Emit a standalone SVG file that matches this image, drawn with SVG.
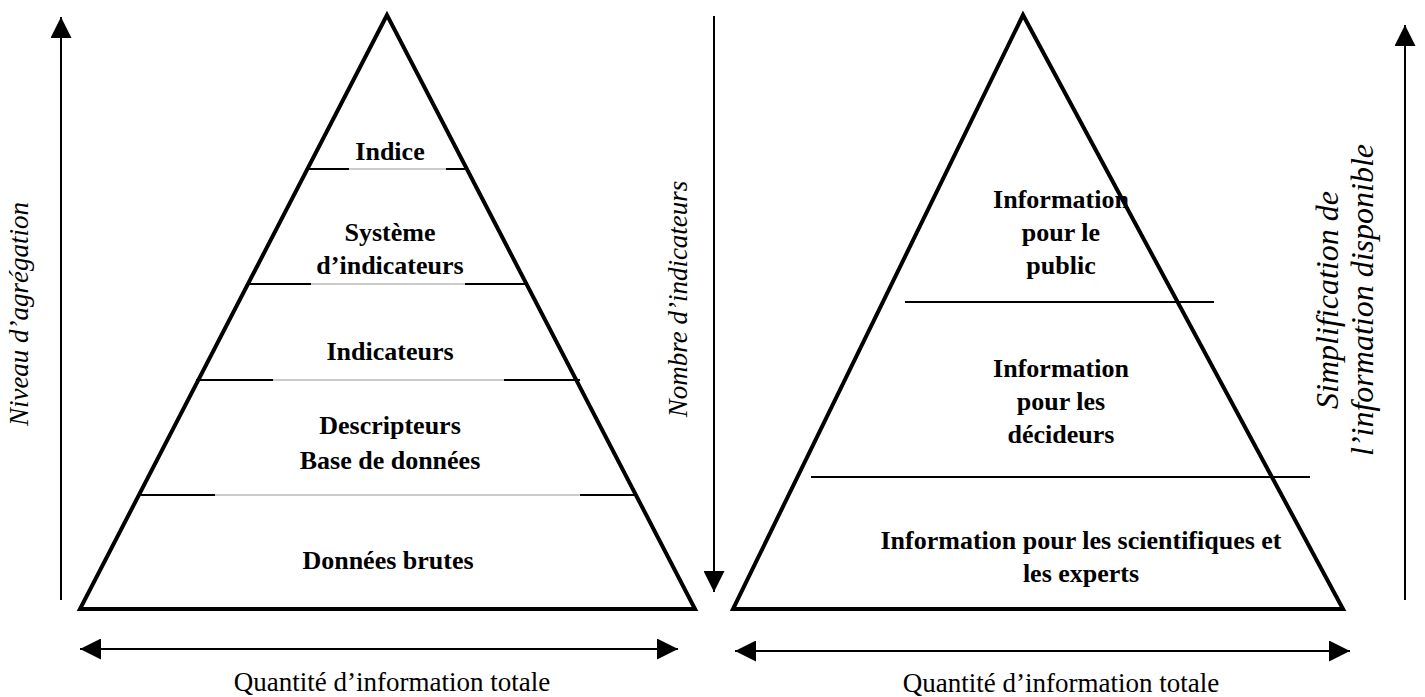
<svg xmlns="http://www.w3.org/2000/svg" width="1425" height="697" viewBox="0 0 1425 697">
  <style>
    .pyr { fill: none; stroke: #000; stroke-width: 4; stroke-linejoin: miter; }
    .div { stroke: #000; stroke-width: 2; }
    .gap { stroke: #999; stroke-width: 1; }
    .axis { stroke: #000; stroke-width: 2; fill: none; }
    .lbl { font-family: "Liberation Serif", "Times New Roman", serif; font-size: 26px; font-weight: bold; text-anchor: middle; fill: #000; }
    .ax { font-family: "Liberation Serif", "Times New Roman", serif; font-size: 27px; font-style: italic; text-anchor: middle; fill: #000; }
    .ax-big { font-family: "Liberation Serif", "Times New Roman", serif; font-size: 32px; font-style: italic; text-anchor: middle; fill: #000; }
    .qt { font-family: "Liberation Serif", "Times New Roman", serif; font-size: 27px; text-anchor: middle; fill: #000; }
  </style>
  <defs>
    <marker id="head" viewBox="0 0 10 10" refX="10" refY="5" markerWidth="10.5" markerHeight="10.5" markerUnits="strokeWidth" orient="auto-start-reverse">
      <path d="M0,0 L10,5 L0,10 Z" fill="#000"/>
    </marker>
  </defs>

  <rect width="1425" height="697" fill="#fff"/>

  <!-- Aggregation pyramid -->
  <g id="pyramid-left">
    <polygon class="pyr" points="387,15 80,609 695,609"/>
    <line class="gap" x1="349" y1="169" x2="446" y2="169"/>
    <line class="div" x1="308" y1="169" x2="349" y2="169"/>
    <line class="div" x1="446" y1="169" x2="466" y2="169"/>
    <line class="gap" x1="311" y1="284" x2="465" y2="284"/>
    <line class="div" x1="248" y1="284" x2="311" y2="284"/>
    <line class="div" x1="465" y1="284" x2="526" y2="284"/>
    <line class="gap" x1="273" y1="380" x2="504" y2="380"/>
    <line class="div" x1="196" y1="380" x2="273" y2="380"/>
    <line class="div" x1="504" y1="380" x2="580" y2="380"/>
    <line class="gap" x1="215" y1="495" x2="580" y2="495"/>
    <line class="div" x1="141" y1="495" x2="215" y2="495"/>
    <line class="div" x1="580" y1="495" x2="634" y2="495"/>
  </g>
  <g id="level-indice"><text class="lbl" x="390" y="160">Indice</text></g>
  <g id="level-systeme">
    <text class="lbl" x="390" y="241">Système</text>
    <text class="lbl" x="390" y="274">d’indicateurs</text>
  </g>
  <g id="level-indicateurs"><text class="lbl" x="390" y="360">Indicateurs</text></g>
  <g id="level-descripteurs">
    <text class="lbl" x="390" y="434">Descripteurs</text>
    <text class="lbl" x="390" y="469">Base de données</text>
  </g>
  <g id="level-donnees"><text class="lbl" x="388" y="569">Données brutes</text></g>

  <!-- Audience pyramid -->
  <g id="pyramid-right">
    <polygon class="pyr" points="1023,15 733,609 1343,609"/>
    <line class="div" x1="905" y1="302" x2="1214" y2="302"/>
    <line class="div" x1="811" y1="477" x2="1310" y2="477"/>
  </g>
  <g id="level-public">
    <text class="lbl" x="1061" y="208">Information</text>
    <text class="lbl" x="1061" y="241">pour le</text>
    <text class="lbl" x="1061" y="274">public</text>
  </g>
  <g id="level-decideurs">
    <text class="lbl" x="1061" y="377">Information</text>
    <text class="lbl" x="1061" y="410">pour les</text>
    <text class="lbl" x="1061" y="443">décideurs</text>
  </g>
  <g id="level-experts">
    <text class="lbl" x="1081" y="549">Information pour les scientifiques et</text>
    <text class="lbl" x="1081" y="582">les experts</text>
  </g>

  <!-- Axes -->
  <g id="connectors">
    <line class="axis" x1="61" y1="600" x2="61" y2="17" marker-end="url(#head)"/>
    <line class="axis" x1="714" y1="16" x2="714" y2="592" marker-end="url(#head)"/>
    <line class="axis" x1="1405" y1="600" x2="1405" y2="25" marker-end="url(#head)"/>
    <line class="axis" x1="80" y1="649" x2="678" y2="649" marker-start="url(#head)" marker-end="url(#head)"/>
    <line class="axis" x1="735" y1="651" x2="1350" y2="651" marker-start="url(#head)" marker-end="url(#head)"/>
  </g>

  <g id="axis-labels">
    <text class="ax" transform="translate(28,314) rotate(-90)">Niveau d’agrégation</text>
    <text class="ax" transform="translate(687,299) rotate(-90)">Nombre d’indicateurs</text>
    <text class="ax-big" transform="translate(1338,300) rotate(-90)">Simplification de</text>
    <text class="ax-big" transform="translate(1373,300) rotate(-90)">l’information disponible</text>
    <text class="qt" x="392" y="691">Quantité d’information totale</text>
    <text class="qt" x="1061" y="692">Quantité d’information totale</text>
  </g>
</svg>
